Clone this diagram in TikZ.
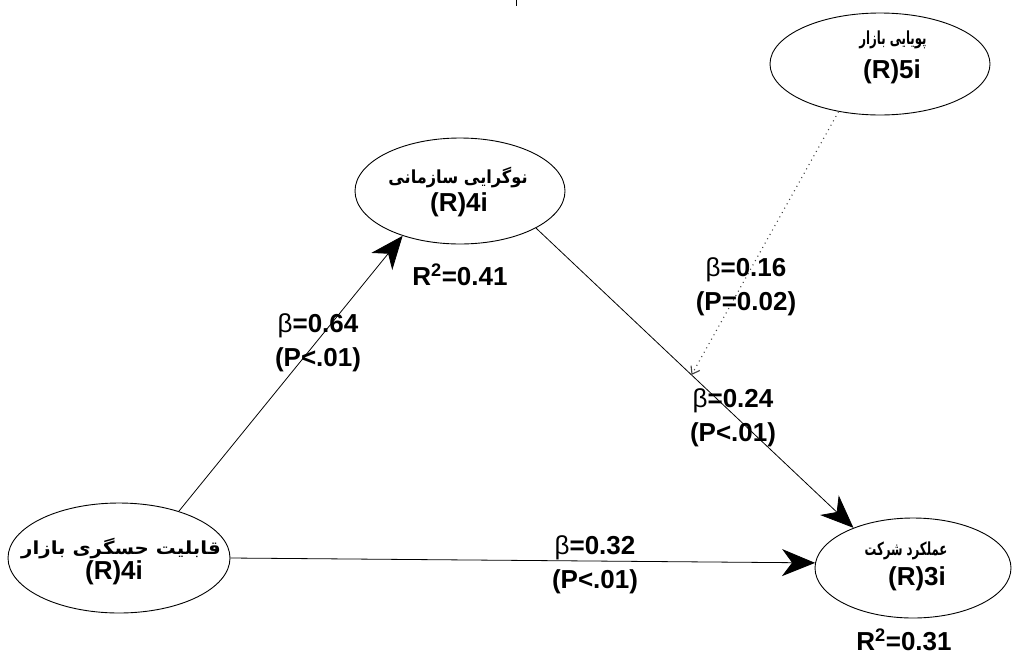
\documentclass[tikz,border=0pt]{standalone}
\usepackage{fontspec}
\setmainfont{Liberation Sans}
\newfontfamily\fa[Script=Arabic]{DejaVu Sans}
\TeXXeTstate=1
\usetikzlibrary{shapes.geometric,arrows.meta}
\begin{document}
\begin{tikzpicture}[x=1pt,y=-1pt,
  ell/.style={draw=black,line width=0.9pt,ellipse,inner sep=0pt},
  fatext/.style={font=\fa\bfseries\fontsize{18}{20}\selectfont,inner sep=0pt},
  idtext/.style={font=\bfseries\fontsize{26}{30}\selectfont,inner sep=0pt},
  lab/.style={font=\bfseries\fontsize{26}{34}\selectfont,align=center,inner sep=0pt},
  conn/.style={line width=0.8pt,-{Stealth[length=33pt,width=27pt,inset=10pt]}},
  dotconn/.style={line width=1.1pt,dash pattern=on 1pt off 4pt,black!75,-{Straight Barb[length=7pt,width=10pt]}}]
\path[fill=white] (0,0) rectangle (1014,659);
\useasboundingbox (0,0) rectangle (1014,659);
\draw[line width=1pt] (516,0) -- (516,6);
% ellipses
\node[ell,minimum width=220pt,minimum height=102pt] (dyn) at (880,64) {};
\node[ell,minimum width=210pt,minimum height=106pt] (inno) at (460,191) {};
\node[ell,minimum width=222pt,minimum height=110pt] (sense) at (119,558) {};
\node[ell,minimum width=196pt,minimum height=100pt] (perf) at (913,568) {};
% texts in ellipses
\node[fatext] (dynfa) at (893,40) {\scalebox{0.65}[1]{\beginR پویایی بازار\endR}};
\node[idtext] (dynid) at (892,72) {(R)5i};
\node[fatext] (innofa) at (458,178) {\scalebox{0.9}[1]{\beginR نوگرایی سازمانی\endR}};
\node[idtext] (innoid) at (459,205) {(R)4i};
\node[fatext] (sensefa) at (121,549) {\scalebox{1.1}[1]{\beginR قابلیت حسگری بازار\endR}};
\node[idtext] (senseid) at (114,573) {(R)4i};
\node[fatext] (perffa) at (906,551) {\scalebox{0.65}[1]{\beginR عملکرد شرکت\endR}};
\node[idtext] (perfid) at (917,579) {(R)3i};
% connectors
\draw[conn] (sense.38) -- (inno.218);
\draw[conn] (inno.334) -- coordinate[pos=0.49] (mod) (perf.146);
\draw[conn] (sense.0) -- (perf.177);
\draw[dotconn] (dyn.229) -- (mod);
% labels
\node[lab] (l64) at (318,343) {{\mdseries β}=0.64\\(P<.01)};
\node[lab] (l16) at (746,287) {{\mdseries β}=0.16\\(P=0.02)};
\node[lab] (l24) at (733,418) {{\mdseries β}=0.24\\(P<.01)};
\node[lab] (l32) at (595,565) {{\mdseries β}=0.32\\(P<.01)};
\node[idtext] (r41) at (460,275) {R\textsuperscript{2}=0.41};
\node[idtext] (r31) at (904,640) {R\textsuperscript{2}=0.31};
\end{tikzpicture}
\end{document}
